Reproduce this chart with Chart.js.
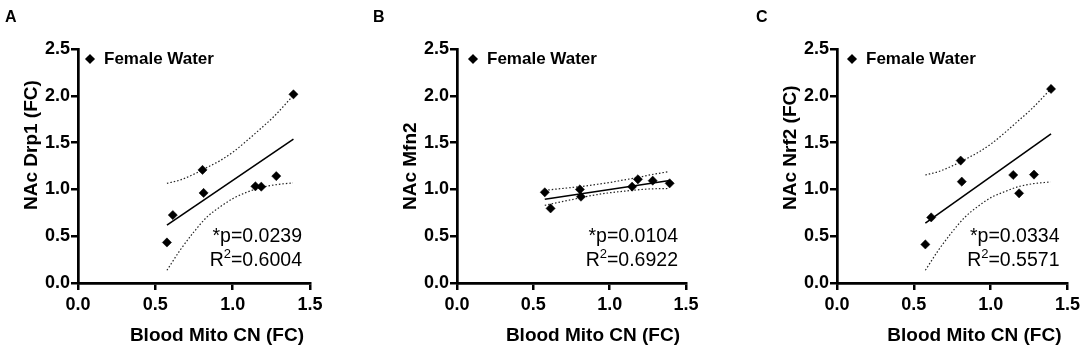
<!DOCTYPE html>
<html>
<head>
<meta charset="utf-8">
<script src="https://cdn.jsdelivr.net/npm/chart.js@4.4.1/dist/chart.umd.min.js"></script>
<style>
  html, body { margin: 0; padding: 0; background: #fff; }
  #wrap { position: relative; width: 1084px; height: 346px; overflow: hidden; }
  .panel { position: absolute; top: 0; height: 346px; }
</style>
</head>
<body>
<div id="wrap">
  <div class="panel" style="left:0;width:360px"><canvas id="chartA" width="360" height="346"></canvas></div>
  <div class="panel" style="left:360px;width:360px"><canvas id="chartB" width="360" height="346"></canvas></div>
  <div class="panel" style="left:720px;width:364px"><canvas id="chartC" width="364" height="346"></canvas></div>
</div>
<script>
// Blood mito copy number (x) for the 8 female water animals
const mitoCN = [0.575, 0.613, 0.805, 0.812, 1.147, 1.185, 1.282, 1.393];
const drp1 = [0.433, 0.726, 1.208, 0.962, 1.033, 1.029, 1.142, 2.016];
const mfn2 = [0.969, 0.797, 1.000, 0.922, 1.029, 1.108, 1.093, 1.065];
const nrf2 = [0.412, 0.701, 1.308, 1.083, 1.154, 0.958, 1.158, 2.073];

// fitted line ends + 95% band
const fitX = [0.575, 1.393];
const fitDrp1 = [0.618, 1.537];
const fitMfn2 = [0.894, 1.095];
const fitNrf2 = [0.640, 1.594];

const bandX = [0.575, 0.66, 0.75, 0.835, 0.92, 1.005, 1.09, 1.18, 1.265, 1.39];
const drp1Upper = [1.065, 1.10, 1.163, 1.235, 1.309, 1.402, 1.518, 1.648, 1.776, 2.0];
const drp1Lower = [0.136, 0.350, 0.547, 0.707, 0.815, 0.905, 0.969, 1.018, 1.047, 1.07];
const mfn2Upper = [0.99, 1.005, 1.02, 1.035, 1.055, 1.075, 1.10, 1.125, 1.155, 1.19];
const mfn2Lower = [0.83, 0.86, 0.89, 0.92, 0.945, 0.965, 0.98, 0.995, 1.005, 1.01];
const nrf2Upper = [1.154, 1.19, 1.251, 1.322, 1.397, 1.489, 1.603, 1.733, 1.857, 2.07];
const nrf2Lower = [0.136, 0.350, 0.547, 0.707, 0.822, 0.915, 0.975, 1.029, 1.058, 1.08];

const xTicks = [0, 0.5, 1.0, 1.5];
const yTicks = [0, 0.5, 1.0, 1.5, 2.0, 2.5];

const seriesName = 'Female Water';
const xTitle = 'Blood Mito CN (FC)';

const FONT = '"Liberation Sans", Arial, Helvetica, sans-serif';
Chart.defaults.font.family = FONT;
Chart.defaults.color = '#000';

const toXY = (xs, ys) => xs.map((x, i) => ({ x: x, y: ys[i] }));

// text overlay: panel letter, axis titles, legend entry, stats
const panelText = {
  id: 'panelText',
  afterDraw(chart, args, opts) {
    const ctx = chart.ctx;
    const a = chart.chartArea;
    ctx.save();
    ctx.fillStyle = '#000';

    ctx.font = 'bold 16px ' + FONT;
    ctx.textAlign = 'left';
    ctx.textBaseline = 'alphabetic';
    ctx.fillText(opts.letter, opts.letterX, 22);

    // y title, bottom-anchored like the original
    ctx.save();
    ctx.font = 'bold 19px ' + FONT;
    ctx.translate(a.left - 41, 210);
    ctx.rotate(-Math.PI / 2);
    ctx.textAlign = 'left';
    ctx.fillText(opts.yTitle, 0, 0);
    ctx.restore();

    ctx.font = 'bold 19px ' + FONT;
    ctx.textAlign = 'right';
    ctx.fillText(xTitle, a.right - 6, 341);

    // legend
    const mx = a.left + opts.legendDx, my = 59;
    Chart.helpers.drawPoint(ctx, { pointStyle: 'rectRot', radius: 4.8, borderWidth: 0 }, mx, my);
    ctx.fill();
    ctx.font = 'bold 17px ' + FONT;
    ctx.textAlign = 'left';
    ctx.textBaseline = 'middle';
    ctx.fillText(chart.data.datasets[0].label, mx + 14, my);

    // stats
    const rx = a.right - 8;
    ctx.textBaseline = 'alphabetic';
    ctx.font = '19.5px ' + FONT;
    ctx.textAlign = 'right';
    ctx.fillText(opts.p, rx, 242);
    const tail = '=' + opts.r2;
    const wTail = ctx.measureText(tail).width;
    ctx.font = '13px ' + FONT;
    const wSup = ctx.measureText('2').width;
    ctx.fillText('2', rx - wTail, 258);
    ctx.font = '19.5px ' + FONT;
    ctx.fillText(tail, rx, 266);
    ctx.fillText('R', rx - wTail - wSup, 266);
    ctx.restore();
  }
};

function makePanel(id, yVals, fitY, upper, lower, text, leftW, rightPad) {
  new Chart(document.getElementById(id), {
    type: 'scatter',
    data: {
      datasets: [
        {
          label: seriesName,
          data: toXY(mitoCN, yVals),
          pointStyle: 'rectRot',
          pointRadius: 4.6,
          backgroundColor: '#000',
          borderColor: '#000',
          borderWidth: 0.5
        },
        {
          data: toXY(fitX, fitY),
          showLine: true,
          borderColor: '#000',
          borderWidth: 1.6,
          pointRadius: 0
        },
        {
          data: toXY(bandX, upper),
          showLine: true,
          cubicInterpolationMode: 'monotone',
          borderColor: '#222',
          borderWidth: 1.2,
          borderDash: [1.5, 2],
          pointRadius: 0
        },
        {
          data: toXY(bandX, lower),
          showLine: true,
          cubicInterpolationMode: 'monotone',
          borderColor: '#222',
          borderWidth: 1.2,
          borderDash: [1.5, 2],
          pointRadius: 0
        }
      ]
    },
    options: {
      responsive: false,
      animation: false,
      events: [],
      devicePixelRatio: 1,
      layout: { padding: { left: 0, right: rightPad, top: 49, bottom: 0 } },
      plugins: {
        legend: { display: false },
        tooltip: { enabled: false },
        panelText: text
      },
      scales: {
        x: {
          type: 'linear',
          min: 0,
          max: 1.5,
          afterBuildTicks: (s) => { s.ticks = xTicks.map(v => ({ value: v })); },
          afterFit: (s) => { s.height = 63; },
          ticks: {
            padding: 4,
            font: { size: 18, weight: 'bold' },
            color: '#000',
            callback: (v) => v.toFixed(1)
          },
          grid: { drawOnChartArea: false, drawTicks: true, tickLength: 7, color: '#000', lineWidth: 2.5 },
          border: { display: true, color: '#000', width: 2.7 }
        },
        y: {
          type: 'linear',
          min: 0,
          max: 2.5,
          afterBuildTicks: (s) => { s.ticks = yTicks.map(v => ({ value: v })); },
          afterFit: (s) => { s.width = leftW; },
          ticks: {
            padding: 1,
            font: { size: 18, weight: 'bold' },
            color: '#000',
            callback: (v) => v.toFixed(1)
          },
          grid: { drawOnChartArea: false, drawTicks: true, tickLength: 7, color: '#000', lineWidth: 2.5 },
          border: { display: true, color: '#000', width: 2.7 }
        }
      }
    },
    plugins: [panelText]
  });
}

makePanel('chartA', drp1, fitDrp1, drp1Upper, drp1Lower,
  { letter: 'A', letterX: 5, yTitle: 'NAc Drp1 (FC)', legendDx: 12, p: '*p=0.0239', r2: '0.6004' }, 78, 50);
makePanel('chartB', mfn2, fitMfn2, mfn2Upper, mfn2Lower,
  { letter: 'B', letterX: 13, yTitle: 'NAc Mfn2', legendDx: 16, p: '*p=0.0104', r2: '0.6922' }, 97, 34);
makePanel('chartC', nrf2, fitNrf2, nrf2Upper, nrf2Lower,
  { letter: 'C', letterX: 36, yTitle: 'NAc Nrf2 (FC)', legendDx: 15, p: '*p=0.0334', r2: '0.5571' }, 117, 15);
</script>
</body>
</html>
